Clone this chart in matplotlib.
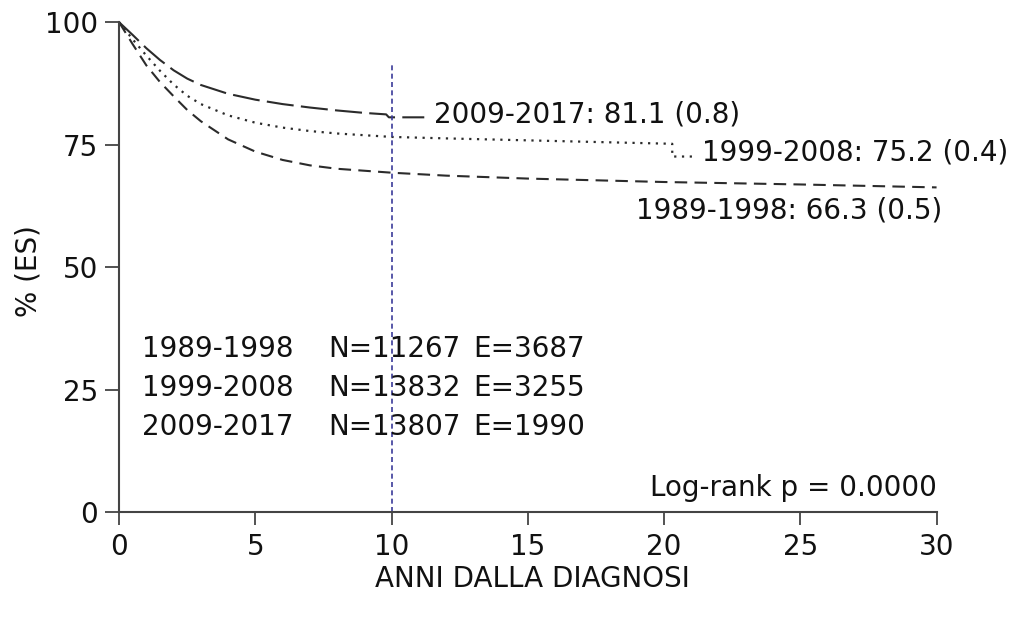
import numpy as np
import matplotlib
matplotlib.use("Agg")
import matplotlib.pyplot as plt
from matplotlib import rcParams

rcParams['font.family'] = ['DejaVu Sans']
rcParams['font.size'] = 20

# survival curves (years, % ES)
t_0917 = [0, 0.5, 1, 1.5, 2, 2.5, 3, 4, 5, 6, 7, 8, 9, 9.8, 9.9, 11.2]
s_0917 = [100, 97.4, 94.7, 92.3, 90.2, 88.5, 87.2, 85.4, 84.2, 83.3, 82.6, 82.0, 81.5, 81.2, 80.6, 80.6]

t_9908 = [0, 0.5, 1, 1.5, 2, 2.5, 3, 4, 5, 6, 7, 8, 10, 12, 15, 18, 20.3, 20.3, 21.2]
s_9908 = [100, 96.5, 93.2, 90.1, 87.3, 85.0, 83.3, 81.0, 79.5, 78.5, 77.8, 77.3, 76.6, 76.3, 75.9, 75.5, 75.2, 72.6, 72.6]

t_8998 = [0, 0.5, 1, 1.5, 2, 2.5, 3, 4, 5, 6, 7, 8, 10, 12, 15, 20, 25, 30]
s_8998 = [100, 95.5, 91.2, 87.8, 84.9, 82.1, 79.8, 76.1, 73.6, 71.9, 70.8, 70.1, 69.3, 68.7, 68.1, 67.4, 66.9, 66.3]

end_labels = ["2009-2017: 81.1 (0.8)", "1999-2008: 75.2 (0.4)", "1989-1998: 66.3 (0.5)"]
periods = ["1989-1998", "1999-2008", "2009-2017"]
n_cases = ["N=11267", "N=13832", "N=13807"]
n_events = ["E=3687", "E=3255", "E=1990"]
x_ticks = [0, 5, 10, 15, 20, 25, 30]
y_ticks = [0, 25, 50, 75, 100]

fig = plt.figure(figsize=(10.18, 6.18), dpi=100)
ax = fig.add_axes([0.117, 0.171, 0.803, 0.793])

col = "#2b2b2b"
l1, = ax.plot(t_0917, s_0917, color=col, lw=1.5, clip_on=False)
l1.set_dashes((13, 3.5))
l2, = ax.plot(t_9908, s_9908, color=col, lw=1.6, clip_on=False)
l2.set_dashes((1, 2.5))
l3, = ax.plot(t_8998, s_8998, color=col, lw=1.5, clip_on=False)
l3.set_dashes((6, 3.5))

# reference line at 10 years
ax.plot([10, 10], [0, 91.7], color="#3b3b9a", lw=1.2, ls=(0, (3, 2)))

ax.text(11.55, 81.2, end_labels[0], va='center', ha='left', color='#111')
ax.text(21.4, 73.5, end_labels[1], va='center', ha='left', color='#111', clip_on=False)
ax.text(30.2, 61.6, end_labels[2], va='center', ha='right', color='#111')

for i in range(3):
    yy = 33.3 - i * 7.9
    ax.text(0.84, yy, periods[i], va='center', ha='left', color='#111')
    ax.text(7.66, yy, n_cases[i], va='center', ha='left', color='#111')
    ax.text(12.98, yy, n_events[i], va='center', ha='left', color='#111')

ax.text(30, 4.9, "Log-rank p = 0.0000", va='center', ha='right', color='#111')

ax.set_xlim(0, 30)
ax.set_ylim(0, 100)
ax.set_xticks(x_ticks)
ax.set_yticks(y_ticks)
for s in ['top', 'right']:
    ax.spines[s].set_visible(False)
for s in ['left', 'bottom']:
    ax.spines[s].set_color('#444')
    ax.spines[s].set_linewidth(1.5)
ax.tick_params(axis='y', length=10, width=1.3, color='#444', pad=5, labelcolor='#111')
ax.tick_params(axis='x', length=9, width=1.3, color='#444', pad=6, labelcolor='#111')

fig.text(0.028, 0.561, "% (ES)", rotation=90, va='center', ha='center', color='#111')
fig.text(0.523, 0.063, "ANNI DALLA DIAGNOSI", va='center', ha='center', color='#111')

fig.savefig("out.png", dpi=100)
